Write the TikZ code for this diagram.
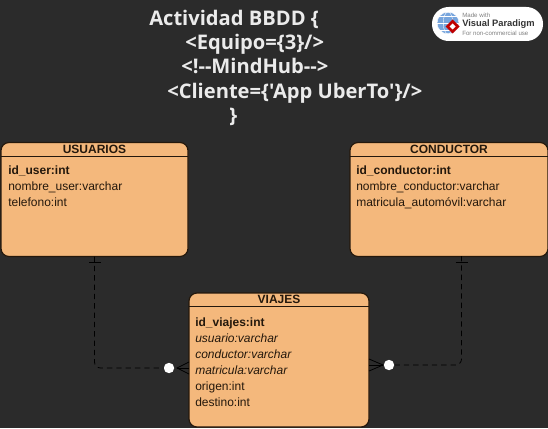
\documentclass[tikz,border=0pt]{standalone}
\usepackage{fontspec}
\setmainfont{Liberation Sans}
\newfontfamily\titlefont{Open Sans}
\definecolor{bgdark}{HTML}{2B2B2B}
\definecolor{entityfill}{HTML}{F4B87C}
\definecolor{entityline}{HTML}{24180C}
\tikzset{
    entitybox/.style={draw=entityline, line width=0.9pt, fill=entityfill, rounded corners=6pt, anchor=north west, inner sep=0pt, outer sep=0pt},
    entityhead/.style={font=\fontsize{9}{11}\selectfont\bfseries, text=entityline, anchor=base, inner sep=0pt},
    attrib/.style={font=\fontsize{9}{11}\selectfont, text=entityline, anchor=base west, inner sep=0pt},
    keyattrib/.style={attrib, font=\fontsize{9}{11}\selectfont\bfseries},
    fkattrib/.style={attrib, font=\fontsize{9}{11}\selectfont\itshape},
    titleline/.style={font=\titlefont\fontsize{15.1}{18}\selectfont\bfseries, text=white!92!black, anchor=base west, inner sep=0pt},
    reldash/.style={draw=black, line width=0.6pt, dash pattern=on 4pt off 3pt, rounded corners=4.5pt},
    relsolid/.style={draw=black, line width=0.6pt},
    optcircle/.style={circle, fill=white, draw=none, minimum size=7.8pt, inner sep=0pt},
}
\begin{document}
\begin{tikzpicture}[x=0.75pt, y=-0.75pt]
    % Background
    \fill[bgdark] (0,0) rectangle (548,428);
    \useasboundingbox (0,0) rectangle (548,428);

    % Title
    \node[titleline] (titleA) at (149,26) {Actividad BBDD \{};
    \node[titleline] (titleB) at (185,50) {<Equipo=\{3\}/>};
    \node[titleline] (titleC) at (181,74) {<!-{}-MindHub-{}->};
    \node[titleline] (titleD) at (167,98) {<Cliente=\{'App UberTo'\}/>};
    \node[titleline] (titleE) at (229,122) {\}};

    % Logo
    \fill[white] (432,7) [rounded corners=12.5pt] rectangle (543,41);
    \fill[cyan!55!blue!55!white] (448,23) circle (8.2pt);
    \draw[white, line width=0.3pt] (448,23) circle (8.2pt);
    \draw[white, line width=0.3pt] (448,23) ellipse (3.6pt and 8.2pt);
    \draw[white, line width=0.3pt] (437,23) -- (459,23);
    \draw[white, line width=0.3pt] (439,16) -- (457,16);
    \draw[white, line width=0.3pt] (439,30) -- (457,30);
    \fill[red!75!black] (452.5,19.5) -- (459.5,26.5) -- (452.5,33.5) -- (445.5,26.5) -- cycle;
    \fill[white] (452.5,23.5) -- (455.5,26.5) -- (452.5,29.5) -- (449.5,26.5) -- cycle;
    \node[font=\fontsize{4.6}{5}\selectfont, text=gray, anchor=west, inner sep=0pt] (logoA) at (462,15) {Made with};
    \node[font=\fontsize{7}{8}\selectfont\bfseries, text=black!80, anchor=west, inner sep=0pt] (logoB) at (462,24) {Visual Paradigm};
    \node[font=\fontsize{4.6}{5}\selectfont, text=gray, anchor=west, inner sep=0pt] (logoC) at (462,33) {For non-commercial use};

    % USUARIOS
    \node[entitybox, minimum width=140.25pt, minimum height=85.5pt] (usuarios) at (1,142.5) {};
    \draw[entityline, line width=0.75pt] (1,156) -- (188,156);
    \node[entityhead] (usuariosHead) at (94.5,153) {USUARIOS};
    \node[keyattrib] (idUser) at (8,174) {id\_user:int};
    \node[attrib] (nombreUser) at (8,190) {nombre\_user:varchar};
    \node[attrib] (telefono) at (8,206) {telefono:int};

    % CONDUCTOR
    \node[entitybox, minimum width=148.5pt, minimum height=85.5pt] (conductor) at (350,142.5) {};
    \draw[entityline, line width=0.75pt] (350,156) -- (548,156);
    \node[entityhead] (conductorHead) at (449,153) {CONDUCTOR};
    \node[keyattrib] (idConductor) at (356,174) {id\_conductor:int};
    \node[attrib] (nombreConductor) at (356,190) {nombre\_conductor:varchar};
    \node[attrib] (matriculaAuto) at (356,206) {matricula\_automóvil:varchar};

    % VIAJES
    \node[entitybox, minimum width=135pt, minimum height=100.5pt] (viajes) at (189,293) {};
    \draw[entityline, line width=0.75pt] (189,306) -- (369,306);
    \node[entityhead] (viajesHead) at (279,303) {VIAJES};
    \node[keyattrib] (idViajes) at (195,326) {id\_viajes:int};
    \node[fkattrib] (usuarioFk) at (195,342) {usuario:varchar};
    \node[fkattrib] (conductorFk) at (195,358) {conductor:varchar};
    \node[fkattrib] (matriculaFk) at (195,374) {matricula:varchar};
    \node[attrib] (origen) at (195,390) {origen:int};
    \node[attrib] (destino) at (195,406) {destino:int};

    % Optional ends
    \node[optcircle] (leftOpt) at (169,368) {};
    \node[optcircle] (rightOpt) at (389,365) {};
    \coordinate (conductorOut) at (461.5,256);
    \coordinate (leftCrow) at (177,368);
    \coordinate (rightCrow) at (383,365);

    % Relations
    \draw[reldash] (usuarios.south) -- (usuarios.south |- leftOpt) -- (leftOpt);
    \draw[reldash] (conductorOut) -- (conductorOut |- rightOpt) -- (rightOpt);

    % One ends
    \draw[relsolid] (89,262) -- (101,262);
    \draw[relsolid] (455.5,262) -- (467.5,262);

    % Crow feet
    \draw[relsolid] (189,362) -- (leftCrow) -- (189,374);
    \draw[relsolid] (leftCrow) -- (189,368);
    \draw[relsolid] (369,359) -- (rightCrow) -- (369,371);
    \draw[relsolid] (rightCrow) -- (369,365);
\end{tikzpicture}
\end{document}
